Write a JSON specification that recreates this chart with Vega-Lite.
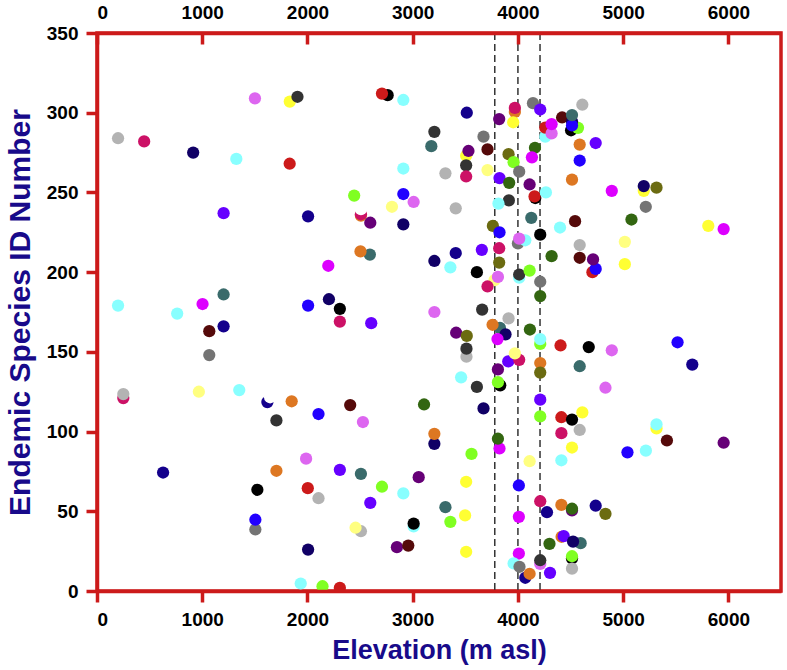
{
  "$schema": "https://vega.github.io/schema/vega-lite/v6.json",
  "width": 684,
  "height": 558,
  "autosize": {"type": "none"},
  "padding": {"left": 97, "top": 33, "right": 6, "bottom": 79},
  "config": {
    "view": {"stroke": "#CC1A1A", "strokeWidth": 3.5},
    "font": "Liberation Sans"
  },
  "datasets": {
    "vl": [{"e": 3780}, {"e": 4000}, {"e": 4210}],
    "pts": [
      {"e":1501,"id":309,"c":"violet"},
      {"e":1832,"id":307,"c":"yellow"},
      {"e":1905,"id":310,"c":"charcoal"},
      {"e":200,"id":284,"c":"lightgray"},
      {"e":448,"id":282,"c":"crimson"},
      {"e":914,"id":275,"c":"navy"},
      {"e":1324,"id":271,"c":"lightcyan"},
      {"e":1831,"id":268,"c":"red"},
      {"e":1203,"id":237,"c":"purpleblue"},
      {"e":2006,"id":235,"c":"darkblue"},
      {"e":2762,"id":311,"c":"black"},
      {"e":2708,"id":312,"c":"red"},
      {"e":2911,"id":308,"c":"lightcyan"},
      {"e":3514,"id":300,"c":"darkblue"},
      {"e":3822,"id":296,"c":"purple"},
      {"e":3971,"id":300.5,"c":"orange"},
      {"e":3971,"id":303,"c":"crimson"},
      {"e":3955,"id":294,"c":"yellow"},
      {"e":4143,"id":306,"c":"gray"},
      {"e":4212,"id":302,"c":"purpleblue"},
      {"e":3206,"id":288,"c":"charcoal"},
      {"e":3177,"id":279,"c":"teal"},
      {"e":3673,"id":285,"c":"gray"},
      {"e":3711,"id":277,"c":"maroon"},
      {"e":3508,"id":273,"c":"yellow"},
      {"e":3530,"id":276,"c":"purple"},
      {"e":3508,"id":267,"c":"charcoal"},
      {"e":3508,"id":260,"c":"crimson"},
      {"e":2911,"id":265,"c":"lightcyan"},
      {"e":3311,"id":262,"c":"lightgray"},
      {"e":3711,"id":264,"c":"lightyellow"},
      {"e":3911,"id":274,"c":"olive"},
      {"e":3959,"id":269,"c":"lime"},
      {"e":4012,"id":263,"c":"gray"},
      {"e":3825,"id":259,"c":"purpleblue"},
      {"e":3917,"id":256,"c":"darkgreen"},
      {"e":4162,"id":278,"c":"darkgreen"},
      {"e":4133,"id":272,"c":"magenta"},
      {"e":4111,"id":255,"c":"purple"},
      {"e":4165,"id":246.5,"c":"black"},
      {"e":4158,"id":247.5,"c":"red"},
      {"e":4266,"id":250,"c":"lightcyan"},
      {"e":3914,"id":245,"c":"charcoal"},
      {"e":3815,"id":243,"c":"lightcyan"},
      {"e":4127,"id":234,"c":"teal"},
      {"e":3762,"id":229,"c":"olive"},
      {"e":3825,"id":225,"c":"blue"},
      {"e":2444,"id":248,"c":"lime"},
      {"e":2911,"id":249,"c":"blue"},
      {"e":3009,"id":244,"c":"violet"},
      {"e":2803,"id":241,"c":"lightyellow"},
      {"e":3409,"id":240,"c":"lightgray"},
      {"e":2508,"id":235.5,"c":"orange"},
      {"e":2508,"id":236.3,"c":"crimson"},
      {"e":2508,"id":239.5,"c":"white"},
      {"e":2597,"id":231,"c":"purple"},
      {"e":2911,"id":230,"c":"navy"},
      {"e":4260,"id":285,"c":"lightcyan"},
      {"e":4260,"id":290.6,"c":"red"},
      {"e":4320,"id":287,"c":"violet"},
      {"e":4320,"id":292.8,"c":"magenta"},
      {"e":4420,"id":297,"c":"maroon"},
      {"e":4612,"id":305,"c":"lightgray"},
      {"e":4505,"id":289,"c":"black"},
      {"e":4571,"id":290.5,"c":"lime"},
      {"e":4514,"id":294.5,"c":"navy"},
      {"e":4514,"id":292,"c":"blue"},
      {"e":4514,"id":298.5,"c":"teal"},
      {"e":4587,"id":280,"c":"orange"},
      {"e":4739,"id":281,"c":"purpleblue"},
      {"e":4587,"id":270,"c":"blue"},
      {"e":4514,"id":258,"c":"orange"},
      {"e":4892,"id":251,"c":"magenta"},
      {"e":5196,"id":251,"c":"yellow"},
      {"e":5196,"id":254,"c":"navy"},
      {"e":5317,"id":253,"c":"olive"},
      {"e":5215,"id":241,"c":"gray"},
      {"e":5079,"id":233,"c":"darkgreen"},
      {"e":4543,"id":232,"c":"maroon"},
      {"e":4400,"id":228,"c":"lightcyan"},
      {"e":5809,"id":229,"c":"yellow"},
      {"e":5955,"id":227,"c":"magenta"},
      {"e":2198,"id":204,"c":"magenta"},
      {"e":200,"id":179,"c":"lightcyan"},
      {"e":762,"id":174,"c":"lightcyan"},
      {"e":1003,"id":180,"c":"magenta"},
      {"e":1203,"id":186,"c":"teal"},
      {"e":1203,"id":166,"c":"darkblue"},
      {"e":1067,"id":163,"c":"maroon"},
      {"e":1067,"id":148,"c":"gray"},
      {"e":2006,"id":179,"c":"blue"},
      {"e":2204,"id":183,"c":"navy"},
      {"e":250,"id":121,"c":"crimson"},
      {"e":250,"id":123.5,"c":"lightgray"},
      {"e":968,"id":125,"c":"lightyellow"},
      {"e":1352,"id":126,"c":"lightcyan"},
      {"e":1619,"id":118.5,"c":"darkblue"},
      {"e":1645,"id":121.5,"c":"white"},
      {"e":1850,"id":119,"c":"orange"},
      {"e":2105,"id":111,"c":"blue"},
      {"e":1705,"id":107,"c":"charcoal"},
      {"e":4000,"id":218,"c":"gray"},
      {"e":4070,"id":220,"c":"lightcyan"},
      {"e":4012,"id":221,"c":"violet"},
      {"e":4212,"id":223.5,"c":"black"},
      {"e":4320,"id":210,"c":"darkgreen"},
      {"e":2593,"id":211,"c":"teal"},
      {"e":2504,"id":213,"c":"orange"},
      {"e":3206,"id":207,"c":"navy"},
      {"e":3409,"id":212,"c":"darkblue"},
      {"e":3358,"id":203,"c":"lightcyan"},
      {"e":3657,"id":214,"c":"purpleblue"},
      {"e":3822,"id":215,"c":"crimson"},
      {"e":3822,"id":206,"c":"olive"},
      {"e":3610,"id":200,"c":"black"},
      {"e":3778,"id":195,"c":"lightyellow"},
      {"e":3810,"id":197,"c":"violet"},
      {"e":3711,"id":191,"c":"crimson"},
      {"e":4012,"id":196.5,"c":"lightcyan"},
      {"e":4012,"id":198.5,"c":"charcoal"},
      {"e":4111,"id":201,"c":"lime"},
      {"e":4212,"id":194,"c":"gray"},
      {"e":4212,"id":185,"c":"darkgreen"},
      {"e":2308,"id":177,"c":"black"},
      {"e":2308,"id":169,"c":"crimson"},
      {"e":2606,"id":168,"c":"purpleblue"},
      {"e":3206,"id":175,"c":"violet"},
      {"e":3660,"id":176.5,"c":"charcoal"},
      {"e":3911,"id":171,"c":"lightgray"},
      {"e":3829,"id":165,"c":"teal"},
      {"e":3759,"id":167,"c":"orange"},
      {"e":3882,"id":161,"c":"navy"},
      {"e":3806,"id":158,"c":"magenta"},
      {"e":3413,"id":162,"c":"purple"},
      {"e":3514,"id":160,"c":"olive"},
      {"e":3511,"id":147,"c":"lightgray"},
      {"e":3511,"id":152,"c":"charcoal"},
      {"e":4114,"id":164,"c":"darkgreen"},
      {"e":4212,"id":155,"c":"lime"},
      {"e":4212,"id":158,"c":"lightcyan"},
      {"e":4405,"id":154,"c":"red"},
      {"e":3908,"id":144,"c":"purpleblue"},
      {"e":4012,"id":145,"c":"crimson"},
      {"e":3971,"id":149,"c":"lightyellow"},
      {"e":4212,"id":143,"c":"orange"},
      {"e":4212,"id":137,"c":"olive"},
      {"e":3810,"id":139,"c":"purple"},
      {"e":3832,"id":129,"c":"black"},
      {"e":3810,"id":131,"c":"lime"},
      {"e":3460,"id":134,"c":"lightcyan"},
      {"e":3610,"id":128,"c":"charcoal"},
      {"e":3673,"id":114.5,"c":"navy"},
      {"e":4212,"id":120,"c":"purpleblue"},
      {"e":4212,"id":109.5,"c":"lime"},
      {"e":2406,"id":116.6,"c":"maroon"},
      {"e":3108,"id":117,"c":"darkgreen"},
      {"e":2527,"id":106,"c":"violet"},
      {"e":4587,"id":217,"c":"lightgray"},
      {"e":5016,"id":219,"c":"lightyellow"},
      {"e":5016,"id":205,"c":"yellow"},
      {"e":4587,"id":209,"c":"maroon"},
      {"e":4708,"id":200,"c":"red"},
      {"e":4739,"id":202,"c":"blue"},
      {"e":4714,"id":208,"c":"purple"},
      {"e":4673,"id":153,"c":"black"},
      {"e":4892,"id":151,"c":"violet"},
      {"e":4587,"id":141,"c":"teal"},
      {"e":5517,"id":156,"c":"blue"},
      {"e":5657,"id":142,"c":"darkblue"},
      {"e":4832,"id":127.5,"c":"violet"},
      {"e":4612,"id":112,"c":"yellow"},
      {"e":4413,"id":109,"c":"red"},
      {"e":4514,"id":107.5,"c":"black"},
      {"e":4413,"id":99,"c":"crimson"},
      {"e":4587,"id":101,"c":"lightgray"},
      {"e":4514,"id":90,"c":"yellow"},
      {"e":4413,"id":82,"c":"lightcyan"},
      {"e":5317,"id":102,"c":"yellow"},
      {"e":5317,"id":104.5,"c":"lightcyan"},
      {"e":5416,"id":94.4,"c":"maroon"},
      {"e":5955,"id":93,"c":"purple"},
      {"e":5041,"id":87,"c":"blue"},
      {"e":5216,"id":88,"c":"lightcyan"},
      {"e":4413,"id":54,"c":"orange"},
      {"e":4514,"id":50.5,"c":"purple"},
      {"e":4514,"id":51.6,"c":"darkgreen"},
      {"e":4739,"id":53.5,"c":"darkblue"},
      {"e":4832,"id":48.4,"c":"olive"},
      {"e":4415,"id":34,"c":"orange"},
      {"e":4435,"id":34.4,"c":"purpleblue"},
      {"e":4596,"id":30,"c":"teal"},
      {"e":4524,"id":31,"c":"navy"},
      {"e":4300,"id":29.6,"c":"darkgreen"},
      {"e":4514,"id":20.5,"c":"black"},
      {"e":4514,"id":21.8,"c":"lime"},
      {"e":4514,"id":14,"c":"lightgray"},
      {"e":4305,"id":11.4,"c":"purpleblue"},
      {"e":3206,"id":92.3,"c":"navy"},
      {"e":3206,"id":98.6,"c":"orange"},
      {"e":3559,"id":86,"c":"lime"},
      {"e":3825,"id":89.4,"c":"magenta"},
      {"e":3810,"id":95.5,"c":"darkgreen"},
      {"e":4111,"id":81.4,"c":"lightyellow"},
      {"e":2308,"id":76,"c":"purpleblue"},
      {"e":2508,"id":73.5,"c":"teal"},
      {"e":2708,"id":65.4,"c":"lime"},
      {"e":3057,"id":71.4,"c":"purple"},
      {"e":3508,"id":68.5,"c":"yellow"},
      {"e":2911,"id":61.2,"c":"lightcyan"},
      {"e":2597,"id":55.3,"c":"purpleblue"},
      {"e":3311,"id":52.6,"c":"teal"},
      {"e":3358,"id":43.4,"c":"lime"},
      {"e":3498,"id":47.4,"c":"yellow"},
      {"e":3009,"id":40.5,"c":"lightcyan"},
      {"e":3009,"id":42.3,"c":"black"},
      {"e":2508,"id":37.5,"c":"lightgray"},
      {"e":2457,"id":39.7,"c":"lightyellow"},
      {"e":2850,"id":27.5,"c":"purple"},
      {"e":2958,"id":28.5,"c":"maroon"},
      {"e":3508,"id":24.6,"c":"yellow"},
      {"e":4009,"id":66.2,"c":"blue"},
      {"e":4009,"id":46.5,"c":"magenta"},
      {"e":4009,"id":23.5,"c":"magenta"},
      {"e":4070,"id":8.3,"c":"darkblue"},
      {"e":3959,"id":17.3,"c":"lightcyan"},
      {"e":4015,"id":15.2,"c":"gray"},
      {"e":4111,"id":10.8,"c":"orange"},
      {"e":4212,"id":56.3,"c":"crimson"},
      {"e":4276,"id":49.4,"c":"darkblue"},
      {"e":4212,"id":17,"c":"violet"},
      {"e":4212,"id":19.3,"c":"charcoal"},
      {"e":1936,"id":4.7,"c":"lightcyan"},
      {"e":2143,"id":3,"c":"lime"},
      {"e":2308,"id":2,"c":"red"},
      {"e":628,"id":74.3,"c":"darkblue"},
      {"e":1705,"id":75.4,"c":"orange"},
      {"e":1987,"id":83,"c":"violet"},
      {"e":1524,"id":63.5,"c":"black"},
      {"e":2003,"id":64.5,"c":"red"},
      {"e":2105,"id":58.2,"c":"lightgray"},
      {"e":1505,"id":38.6,"c":"gray"},
      {"e":1505,"id":44.7,"c":"blue"},
      {"e":2006,"id":26,"c":"navy"}
    ]
  },
  "resolve": {"axis": {"x": "independent"}},
  "layer": [
    {
      "data": {"name": "vl"},
      "mark": {"type": "rule", "strokeDash": [7, 4], "color": "#333333", "strokeWidth": 1.5},
      "encoding": {
        "x": {
          "field": "e", "type": "quantitative",
          "scale": {"domain": [0, 6500], "nice": false, "zero": false},
          "axis": {
            "orient": "top", "title": null, "grid": false, "format": "d",
            "values": [0, 1000, 2000, 3000, 4000, 5000, 6000],
            "domainColor": "#CC1A1A", "domainWidth": 3.5,
            "tickColor": "#CC1A1A", "tickWidth": 3.5, "tickSize": -11,
            "labelPadding": 21.5, "labelFont": "Liberation Sans", "labelFontWeight": "bold",
            "labelFontSize": 19, "labelColor": "#000000", "zindex": 1
          }
        }
      }
    },
    {
      "data": {"name": "pts"},
      "mark": {"type": "circle", "size": 150, "opacity": 1, "clip": true},
      "encoding": {
        "x": {
          "field": "e", "type": "quantitative",
          "scale": {"domain": [0, 6500], "nice": false, "zero": false},
          "axis": {
            "orient": "bottom", "title": "Elevation (m asl)", "grid": false, "format": "d",
            "values": [0, 1000, 2000, 3000, 4000, 5000, 6000],
            "domainColor": "#CC1A1A", "domainWidth": 3.5,
            "tickColor": "#CC1A1A", "tickWidth": 3.5, "tickSize": 11,
            "labelPadding": 8, "labelFont": "Liberation Sans", "labelFontWeight": "bold",
            "labelFontSize": 19, "labelColor": "#000000",
            "titleFont": "Liberation Sans", "titleFontWeight": "bold", "titleFontSize": 27,
            "titleColor": "#180A8A", "titlePadding": 8, "zindex": 1
          }
        },
        "y": {
          "field": "id", "type": "quantitative",
          "scale": {"domain": [0, 350], "nice": false, "zero": false},
          "axis": {
            "orient": "left", "title": "Endemic Species ID Number", "grid": false,
            "values": [0, 50, 100, 150, 200, 250, 300, 350],
            "domainColor": "#CC1A1A", "domainWidth": 3.5,
            "tickColor": "#CC1A1A", "tickWidth": 3.5, "tickSize": 11,
            "labelPadding": 8, "labelFont": "Liberation Sans", "labelFontWeight": "bold",
            "labelFontSize": 19, "labelColor": "#000000",
            "titleFont": "Liberation Sans", "titleFontWeight": "bold", "titleFontSize": 30,
            "titleColor": "#180A8A", "titlePadding": 11, "zindex": 1
          }
        },
        "color": {
          "field": "c", "type": "nominal", "legend": null,
          "scale": {
            "domain": ["red","black","charcoal","gray","lightgray","lightcyan","lime","yellow","lightyellow","violet","magenta","crimson","navy","darkblue","blue","purpleblue","purple","maroon","orange","olive","darkgreen","teal","white"],
            "range": ["#CC1A1A","#000000","#333333","#747474","#B3B3B3","#88FFFF","#80FF22","#FFFF33","#FFFF80","#DD66F0","#DD00FF","#CC1166","#110066","#14008C","#2200FF","#6600FF","#660077","#550A0A","#DD7722","#6B6B11","#336611","#3A6B6B","#FFFFFF"]
          }
        }
      }
    }
  ]
}
